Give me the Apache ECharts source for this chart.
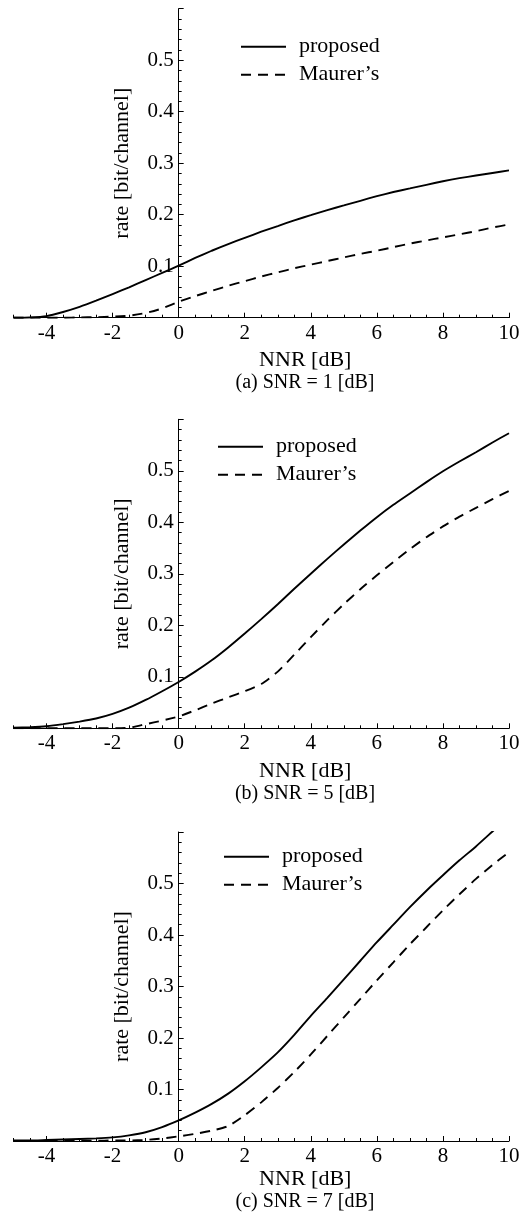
<!DOCTYPE html>
<html>
<head>
<meta charset="utf-8">
<script src="https://cdn.jsdelivr.net/npm/echarts@6/dist/echarts.min.js"></script>
<style>
    html, body { margin: 0; padding: 0; background: #fff; }
    #chart_rate { width: 528px; height: 1223px; }
</style>
</head>
<body>
<div id="chart_rate"></div>
<script>
// NNR 取样点 [dB]
var nnrDb = [-5, -4.5, -4, -3.5, -3, -2.5, -2, -1.5, -1, -0.5, 0, 0.5, 1, 1.5, 2, 2.5,
    3, 3.5, 4, 4.5, 5, 5.5, 6, 6.5, 7, 7.5, 8, 8.5, 9, 9.5, 10];

// (a) SNR = 1 dB
var proposedSnr1 = [0, 0.0005, 0.003, 0.011, 0.021, 0.033, 0.046, 0.059, 0.073, 0.087, 0.101, 0.116,
    0.130, 0.143, 0.155, 0.167, 0.178, 0.189, 0.199, 0.209, 0.218, 0.227, 0.236, 0.244, 0.251,
    0.258, 0.265, 0.271, 0.276, 0.281, 0.286];
var maurerSnr1 = [0, 0, 0, 0, 0.0005, 0.001, 0.002, 0.004, 0.009, 0.018, 0.031, 0.042, 0.052,
    0.062, 0.071, 0.080, 0.088, 0.096, 0.103, 0.110, 0.117, 0.124, 0.130, 0.137, 0.144, 0.150,
    0.156, 0.162, 0.168, 0.175, 0.181];

// (b) SNR = 5 dB
var proposedSnr5 = [0.001, 0.002, 0.004, 0.008, 0.013, 0.019, 0.028, 0.040, 0.055, 0.072, 0.090,
    0.110, 0.132, 0.157, 0.184, 0.212, 0.241, 0.271, 0.300, 0.329, 0.357, 0.384, 0.410, 0.434,
    0.456, 0.478, 0.499, 0.518, 0.536, 0.555, 0.573];
var maurerSnr5 = [0, 0, 0, 0, 0, 0, 0, 0.001, 0.008, 0.015, 0.023, 0.035, 0.048, 0.060, 0.072,
    0.086, 0.110, 0.143, 0.177, 0.210, 0.241, 0.270, 0.297, 0.323, 0.348, 0.371, 0.392, 0.411,
    0.428, 0.445, 0.461];

// (c) SNR = 7 dB
var proposedSnr7 = [0.001, 0.001, 0.002, 0.003, 0.004, 0.005, 0.007, 0.011, 0.017, 0.027, 0.040,
    0.055, 0.072, 0.092, 0.116, 0.143, 0.172, 0.206, 0.243, 0.278, 0.314, 0.350, 0.386, 0.420,
    0.454, 0.486, 0.516, 0.545, 0.572, 0.601, 0.630];
var maurerSnr7 = [0, 0, 0, 0, 0, 0.0005, 0.001, 0.001, 0.002, 0.005, 0.009, 0.014, 0.020, 0.029,
    0.050, 0.075, 0.103, 0.134, 0.168, 0.204, 0.240, 0.276, 0.312, 0.347, 0.382, 0.415, 0.448,
    0.479, 0.509, 0.536, 0.561];

// 刻度
var xMajorTicks = [-4, -2, 0, 2, 4, 6, 8, 10];
var captions = ['(a) SNR = 1 [dB]', '(b) SNR = 5 [dB]', '(c) SNR = 7 [dB]'];
var seriesNames = ['proposed', 'Maurer\u2019s'];

var panelData = [
    [proposedSnr1, maurerSnr1],
    [proposedSnr5, maurerSnr5],
    [proposedSnr7, maurerSnr7]
];

var myChart = '';
var option = '';

function pairs(ys) {
    return nnrDb.map(function (x, i) { return [x, ys[i]]; });
}

window.onload = function () {
    myChart = echarts.init(document.getElementById('chart_rate'));

    var font = 'Liberation Serif';
    var gridLeft = 13.5, gridWidth = 495.5;
    // y 轴放在 NNR = 0 处
    var yOffset = -gridWidth * 5 / 15;
    var gridTops = [8.7, 419.3, 832];
    var xNameGaps = [32, 32, 18];
    var legendTops = [35.7, 435.7, 845.7];
    var legendLefts = [240, 217, 223];
    var captionTops = [373, 784, 1192];

    var grids = [], xAxes = [], yAxes = [], series = [], legends = [], graphics = [];

    for (var p = 0; p < 3; p++) {
        grids.push({
            left: gridLeft, width: gridWidth, top: gridTops[p], height: 309,
            outerBoundsMode: 'none'
        });

        // 主刻度 x 轴
        xAxes.push({
            type: 'value', gridIndex: p, position: 'bottom',
            min: -5, max: 10,
            name: 'NNR [dB]', nameLocation: 'middle', nameGap: xNameGaps[p],
            nameTextStyle: { fontFamily: font, fontSize: 22, color: '#000', padding: [0, 0, 0, 88] },
            axisLine: { onZero: false, lineStyle: { color: '#000', width: 1 } },
            axisTick: { inside: true, length: 5, customValues: xMajorTicks, lineStyle: { color: '#000' } },
            axisLabel: { customValues: xMajorTicks, margin: 5, fontFamily: font, fontSize: 21, color: '#000' },
            splitLine: { show: false }
        });

        yAxes.push({
            type: 'value', gridIndex: p, position: 'left',
            offset: yOffset,
            min: 0, max: 0.6, interval: 0.1,
            name: 'rate [bit/channel]', nameLocation: 'middle', nameGap: 45,
            nameTextStyle: { fontFamily: font, fontSize: 22, color: '#000' },
            axisLine: { onZero: false, lineStyle: { color: '#000', width: 1 } },
            axisTick: { inside: true, length: 5, lineStyle: { color: '#000' } },
            minorTick: { show: true, splitNumber: 5, length: 3, lineStyle: { color: '#000' } },
            axisLabel: {
                margin: 5, fontFamily: font, fontSize: 21, color: '#000',
                formatter: function (v) {
                    if (v === 0 || v > 0.55) return '';
                    return v.toFixed(1);
                }
            },
            splitLine: { show: false }
        });

        for (var s = 0; s < 2; s++) {
            series.push({
                name: seriesNames[s],
                type: 'line',
                xAxisIndex: p, yAxisIndex: p,
                data: pairs(panelData[p][s]),
                symbol: 'none',
                smooth: 0.2,
                clip: true,
                color: '#000',
                lineStyle: { color: '#000', width: 1.9, type: s === 0 ? 'solid' : [10, 7] },
                silent: true
            });
        }

        legends.push({
            orient: 'vertical',
            left: legendLefts[p], top: legendTops[p],
            padding: 0,
            itemWidth: 45, itemHeight: 22, itemGap: 6,
            selectedMode: false,
            data: seriesNames,
            itemStyle: { color: 'rgba(0,0,0,0)', borderWidth: 0, opacity: 0 },
            textStyle: { fontFamily: font, fontSize: 22, color: '#000', padding: [0, 0, 0, 8] }
        });

        graphics.push({
            type: 'text',
            x: 305, y: captionTops[p],
            style: { text: captions[p], font: '20px "Liberation Serif"', fill: '#000', textAlign: 'center' }
        });
    }

    // 次刻度 x 轴 (每 0.5 dB)
    for (var q = 0; q < 3; q++) {
        xAxes.push({
            type: 'value', gridIndex: q, position: 'bottom',
            min: -5, max: 10, interval: 0.5,
            axisLine: { show: false, onZero: false },
            axisTick: { inside: true, length: 3, lineStyle: { color: '#000' } },
            axisLabel: { show: false },
            splitLine: { show: false }
        });
    }

    option = {
        animation: false,
        backgroundColor: '#fff',
        textStyle: { fontFamily: font, color: '#000' },
        grid: grids,
        xAxis: xAxes,
        yAxis: yAxes,
        legend: legends,
        series: series,
        graphic: graphics
    };

    myChart.setOption(option);
};
</script>
</body>
</html>
